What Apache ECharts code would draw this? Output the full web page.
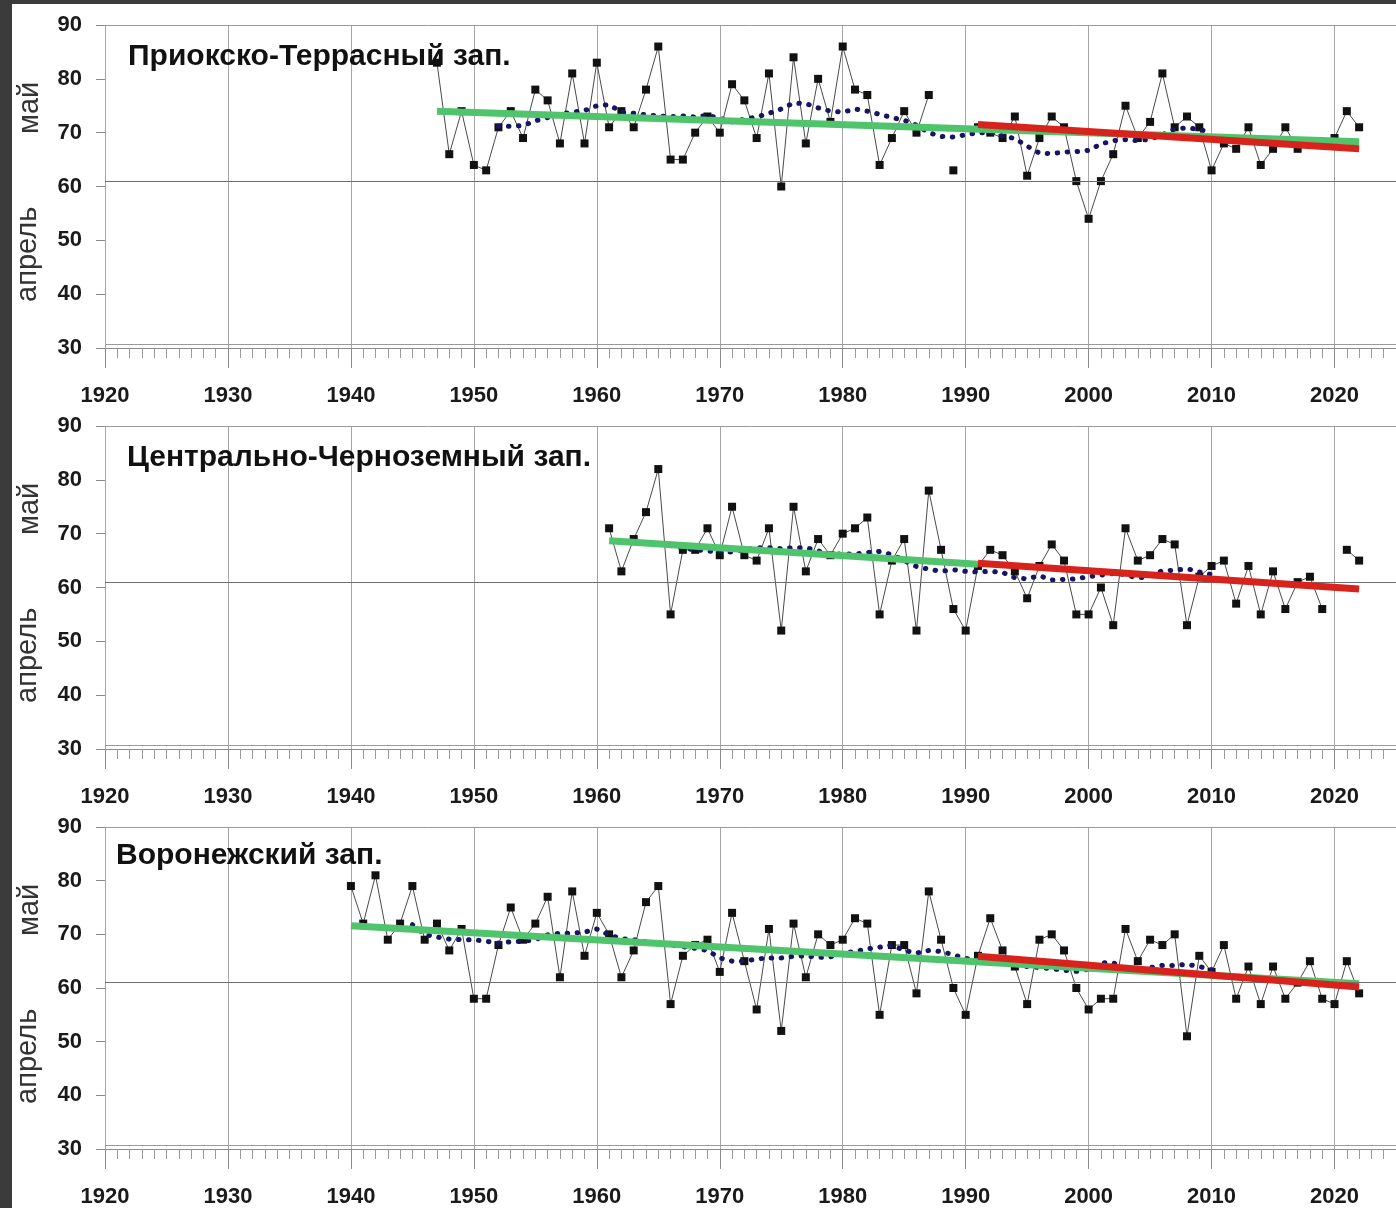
<!DOCTYPE html>
<html>
<head>
<meta charset="utf-8">
<script src="https://cdn.jsdelivr.net/npm/echarts@6/dist/echarts.min.js"></script>
<style>
  html, body { margin:0; padding:0; background:#3b3b3b; width:1396px; height:1208px; overflow:hidden; }
  #chart { position:absolute; left:12px; top:4px; width:1384px; height:1204px; background:#ffffff; }
</style>
</head>
<body>
<div id="chart"></div>
<script>
// ---------- DATA ----------
const panelTitles = ['Приокско-Террасный зап.', 'Центрально-Черноземный зап.', 'Воронежский зап.'];
const monthUpper = 'май';
const monthLower = 'апрель';
const xTickMin = 1920, xTickMax = 2025, xTickStep = 10;
const yTickMin = 30, yTickMax = 90, yTickStep = 10;
const boundaryMayApril = 61;   // 30 April -> 1 May boundary line
const bottomSecondLine = 30.75;

// Panel 1: Приокско-Террасный
const p1Start = 1947;
const p1Values = [83,66,74,64,63,71,74,69,78,76,68,81,68,83,71,74,71,78,86,65,65,70,73,70,79,76,69,81,60,84,68,80,72,86,78,77,64,69,74,70,77,null,63,null,71,70,69,73,62,69,73,71,61,54,61,66,75,69,72,81,71,73,71,63,68,67,71,64,67,71,67,null,null,69,74,71];
const p1MAStart = 1952;
const p1MA = [71.2,71.2,71.3,72.2,72.8,73.5,73.8,74.1,75.0,75.2,73.8,73.6,73.3,73.1,73.0,73.1,72.9,73.2,72.7,72.0,72.5,72.9,73.6,74.4,75.5,75.4,74.6,74.0,73.8,74.4,74.0,73.4,72.8,72.3,71.4,70.0,69.3,69.2,69.6,70.0,70.0,69.4,68.9,67.5,66.2,66.1,66.4,66.5,66.7,67.9,68.5,68.7,68.5,68.8,69.6,70.7,70.9,70.6,70.0];
const p1Green = [[1947, 74.0], [2022, 68.3]];
const p1Red = [[1991, 71.5], [2022, 67.0]];

// Panel 2: Центрально-Черноземный
const p2Start = 1961;
const p2Values = [71,63,69,74,82,55,67,67,71,66,75,66,65,71,52,75,63,69,66,70,71,73,55,65,69,52,78,67,56,52,64,67,66,63,58,64,68,65,55,55,60,53,71,65,66,69,68,53,62,64,65,57,64,55,63,56,61,62,56,null,67,65];
const p2MAStart = 1966;
const p2MA = [67.8,67.3,67.0,66.8,66.6,66.6,67.0,67.4,67.4,67.2,67.4,67.4,66.8,66.2,66.2,66.2,66.5,66.7,66.1,65.0,63.9,63.4,63.0,63.3,63.0,62.9,63.0,62.8,61.8,61.6,62.2,61.4,61.5,61.6,62.0,62.3,62.6,62.4,61.7,62.2,63.1,63.2,63.5,62.9,62.4];
const p2Green = [[1961, 68.7], [1991, 64.3]];
const p2Red = [[1991, 64.5], [2022, 59.7]];

// Panel 3: Воронежский
const p3Start = 1940;
const p3Values = [79,72,81,69,72,79,69,72,67,71,58,58,68,75,69,72,77,62,78,66,74,70,62,67,76,79,57,66,68,69,63,74,65,56,71,52,72,62,70,68,69,73,72,55,68,68,59,78,69,60,55,66,73,67,64,57,69,70,67,60,56,58,58,71,65,69,68,70,51,66,63,68,58,64,57,64,58,61,65,58,57,65,59];
const p3MAStart = 1945;
const p3MA = [71.8,70.0,69.5,69.1,69.0,69.0,68.7,68.4,68.6,68.7,69.0,69.9,70.2,70.2,70.4,71.0,69.9,69.2,69.0,68.6,68.3,68.0,67.7,67.4,67.0,65.6,65.0,65.0,65.4,65.6,65.6,65.9,66.0,65.7,65.8,66.5,66.8,67.3,67.6,68.0,67.0,66.5,67.0,66.8,66.2,65.5,65.3,65.0,64.8,64.3,64.0,63.8,63.6,63.3,63.1,63.5,64.7,64.7,63.5,63.1,63.8,64.2,64.2,64.4,64.0,63.4];
const p3Green = [[1940, 71.6], [2022, 60.8]];
const p3Red = [[1991, 65.9], [2022, 60.2]];

// ---------- BUILD ----------
function pairs(start, vals) { return vals.map((v, i) => [start + i, v]); }

const panels = [
  { title: panelTitles[0], obs: pairs(p1Start, p1Values), ma: pairs(p1MAStart, p1MA), green: p1Green, red: p1Red },
  { title: panelTitles[1], obs: pairs(p2Start, p2Values), ma: pairs(p2MAStart, p2MA), green: p2Green, red: p2Red },
  { title: panelTitles[2], obs: pairs(p3Start, p3Values), ma: pairs(p3MAStart, p3MA), green: p3Green, red: p3Red }
];

const FONT = "'Liberation Sans', Arial, sans-serif";
const gridLeft = 93, gridWidth = 1291;
const gridTops = [21, 422, 823];
const gridH = 323;
const titleLefts = [116, 115, 104];
const titleCenters = [53, 454, 852];

const grids = [], xAxes = [], yAxes = [], series = [], graphics = [];

panels.forEach((p, i) => {
  grids.push({ left: gridLeft, top: gridTops[i], width: gridWidth, height: gridH, containLabel: false });
  xAxes.push({
    type: 'value', gridIndex: i, min: xTickMin, max: xTickMax, interval: xTickStep,
    axisLine: { show: true, onZero: false, lineStyle: { color: '#8a8a8a', width: 1 } },
    axisTick: { show: true, length: 20, lineStyle: { color: '#8a8a8a' } },
    minorTick: { show: true, splitNumber: 10, length: 10, lineStyle: { color: '#9a9a9a' } },
    splitLine: { show: true, lineStyle: { color: '#a6a6a6', width: 1 } },
    axisLabel: { show: true, fontFamily: FONT, fontWeight: 'bold', fontSize: 22, color: '#1a1a1a', margin: 37,
                 showMaxLabel: false, formatter: v => (v % 10 === 0 ? String(v) : '') }
  });
  yAxes.push({
    type: 'value', gridIndex: i, min: yTickMin, max: yTickMax, interval: yTickStep,
    axisLine: { show: false },
    axisTick: { show: true, length: 9, lineStyle: { color: '#8a8a8a' } },
    splitLine: { show: false },
    axisLabel: { fontFamily: FONT, fontWeight: 'bold', fontSize: 22, color: '#1a1a1a', margin: 23 }
  });
  // observations
  series.push({
    type: 'line', xAxisIndex: i, yAxisIndex: i, data: p.obs, connectNulls: false,
    symbol: 'rect', symbolSize: 8, showSymbol: true, showAllSymbol: true,
    itemStyle: { color: '#111111' },
    lineStyle: { color: '#4a4a4a', width: 1 },
    z: 2, silent: true,
    markLine: {
      silent: true, symbol: ['none', 'none'], label: { show: false },
      data: [
        { yAxis: boundaryMayApril, lineStyle: { color: '#6e6e6e', width: 1.2, type: 'solid' } },
        { yAxis: yTickMax, lineStyle: { color: '#9a9a9a', width: 1, type: 'solid' } },
        { yAxis: bottomSecondLine, lineStyle: { color: '#9a9a9a', width: 1, type: 'solid' } }
      ]
    }
  });
  // moving average (dotted)
  series.push({
    type: 'line', xAxisIndex: i, yAxisIndex: i, data: p.ma, symbol: 'none',
    lineStyle: { color: '#161660', width: 5, type: [0.5, 9.5], cap: 'round' },
    z: 3, silent: true
  });
  // trend lines
  series.push({
    type: 'line', xAxisIndex: i, yAxisIndex: i, data: p.green, symbol: 'none',
    lineStyle: { color: '#4fc46c', width: 7 }, z: 4, silent: true
  });
  series.push({
    type: 'line', xAxisIndex: i, yAxisIndex: i, data: p.red, symbol: 'none',
    lineStyle: { color: '#d8231d', width: 7 }, z: 5, silent: true
  });

  graphics.push({
    type: 'text', x: titleLefts[i], y: titleCenters[i], z: 10,
    style: { text: p.title, font: "bold 30px " + FONT, fill: '#111111', textAlign: 'left', textVerticalAlign: 'middle' }
  });
  const yOf = v => gridTops[i] + (yTickMax - v) / (yTickMax - yTickMin) * gridH;
  graphics.push({
    type: 'text', x: 18, y: yOf(74.6), rotation: Math.PI / 2, z: 10,
    style: { text: monthUpper, font: "29px " + FONT, fill: '#333333', textAlign: 'center', textVerticalAlign: 'middle' }
  });
  graphics.push({
    type: 'text', x: 16, y: yOf(47.4), rotation: Math.PI / 2, z: 10,
    style: { text: monthLower, font: "29px " + FONT, fill: '#333333', textAlign: 'center', textVerticalAlign: 'middle' }
  });
});

const chart = echarts.init(document.getElementById('chart'), null, { renderer: 'canvas' });
chart.setOption({
  animation: false,
  backgroundColor: '#ffffff',
  grid: grids, xAxis: xAxes, yAxis: yAxes, series: series,
  graphic: graphics
});
</script>
</body>
</html>
